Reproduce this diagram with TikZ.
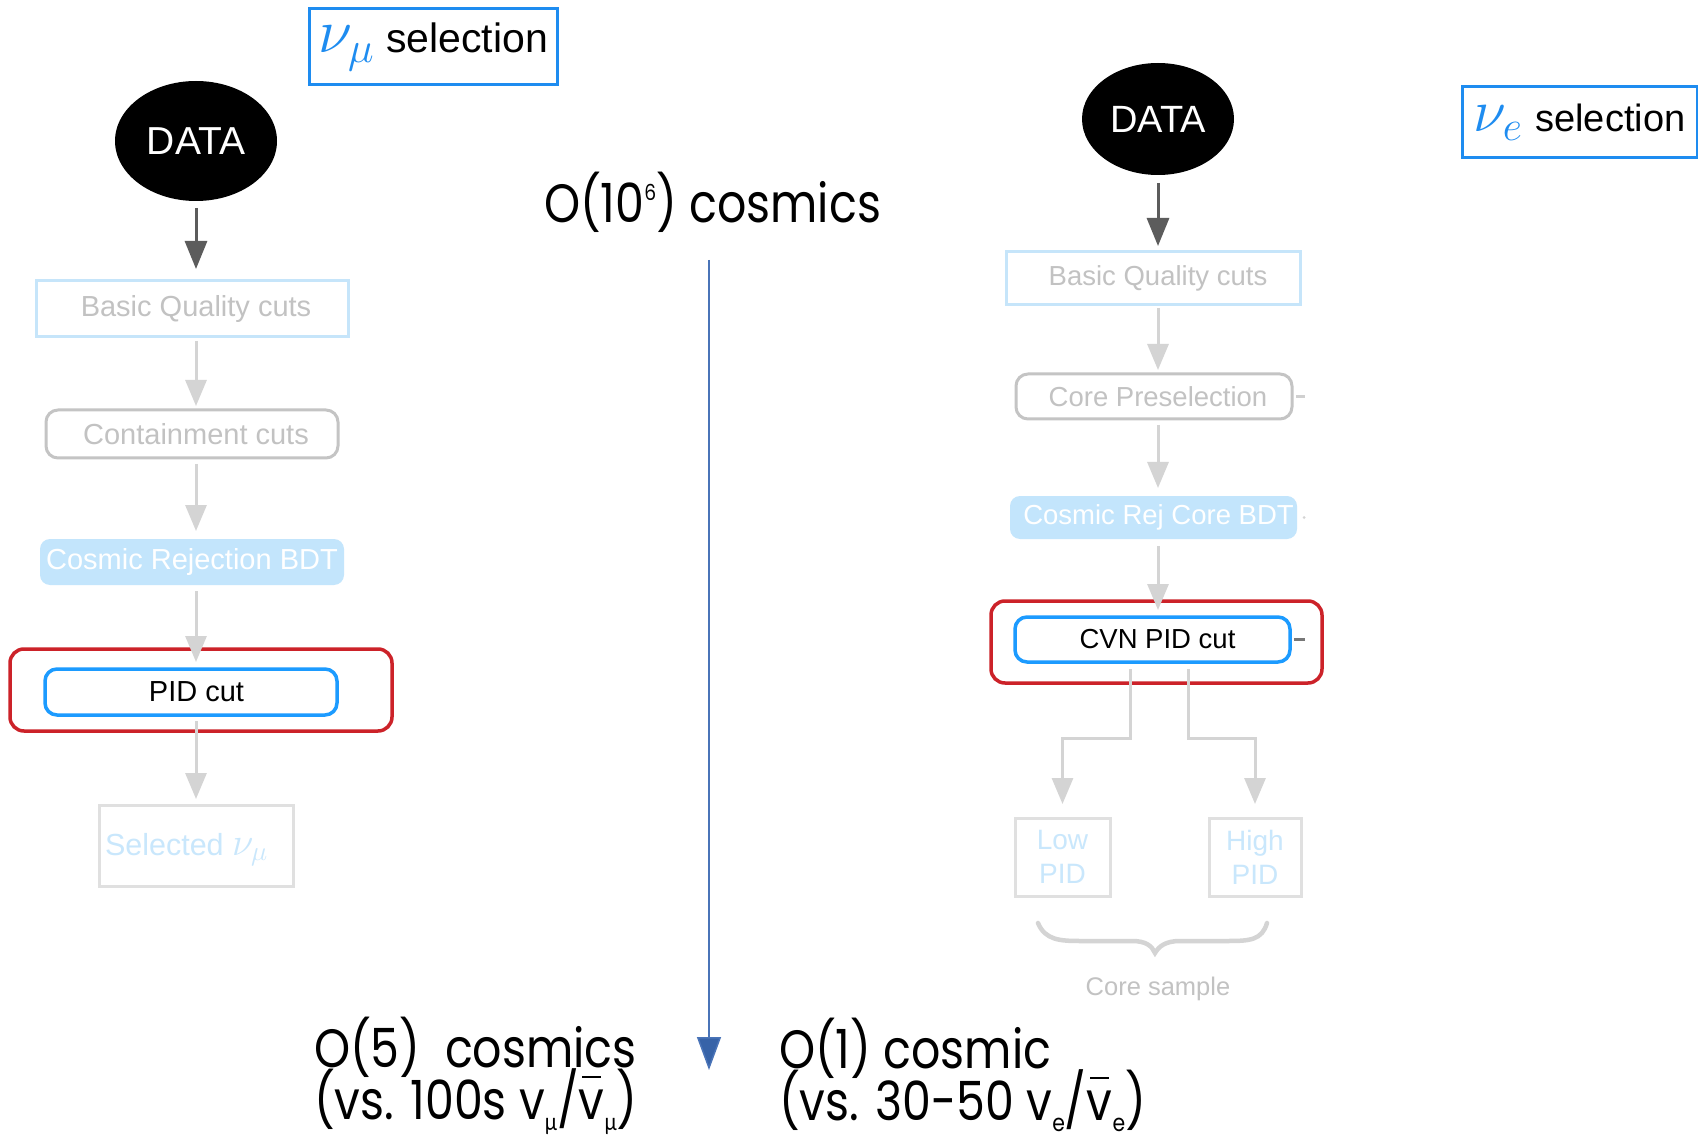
\documentclass[tikz,border=0pt]{standalone}
\usepackage{fix-cm}
\usepackage{graphicx}
\usepackage{fontspec}
\setmainfont{Liberation Sans}
\newfontfamily\qs{Poppins}
\newfontfamily\grk{Lato}
\usetikzlibrary{arrows.meta,shapes.geometric,calc}
\definecolor{tgray}{HTML}{C2C2C2}
\definecolor{lblue}{HTML}{C6E5FA}
\definecolor{bgray}{HTML}{C4C4C4}
\definecolor{fblue}{HTML}{C3E5FC}
\definecolor{agray}{HTML}{D4D4D4}
\definecolor{dgray}{HTML}{5C5C5C}
\definecolor{rred}{HTML}{CC2229}
\definecolor{pblue}{HTML}{1C9BFF}
\definecolor{nblue}{HTML}{1E8CF0}
\definecolor{sgray}{HTML}{E0E0E0}
\definecolor{stext}{HTML}{C9E7FC}
\definecolor{cblue}{HTML}{4A74B8}
\definecolor{hblue}{HTML}{3763A8}
\definecolor{stub}{HTML}{777777}
\newcommand\lsub[1]{\raisebox{-0.2em}{\fontsize{24}{24}\selectfont #1}}
\newcommand\mufont{{\grk μ}}
\newcommand\vbar{\ooalign{v\cr\hidewidth\rule[0.76em]{0.42em}{0.04em}\hidewidth\cr}}
\newcommand\sqz[1]{\scalebox{0.85}[1]{#1}}
\begin{document}
\begin{tikzpicture}[x=1pt,y=-1pt,
  every node/.style={inner sep=0pt, outer sep=0pt},
  sqbox/.style={draw=lblue, line width=3pt, text=tgray, rectangle},
  rndbox/.style={draw=bgray, line width=3pt, text=tgray, rounded corners=12pt},
  fillbox/.style={fill=fblue, text=white, rounded corners=10pt},
  pidbox/.style={draw=pblue, line width=3.5pt, text=black, rounded corners=12pt},
  redbox/.style={draw=rred, line width=3.5pt, rounded corners=14pt},
  outbox/.style={draw=sgray, line width=3pt, text=stext},
  selbox/.style={draw=nblue, line width=3pt},
  garr/.style={draw=agray, line width=3pt, -{Triangle[width=21pt,length=26pt]}},
  darr/.style={draw=dgray, line width=3pt, -{Triangle[width=22pt,length=28pt]}},
  lf/.style={font=\fontsize{29}{34}\selectfont},
  rf/.style={font=\fontsize{27.5}{32}\selectfont},
  bigtxt/.style={font=\qs\fontsize{54}{54}\selectfont, anchor=base west, text=black},
  twoline/.style={font=\qs\fontsize{54}{49}\selectfont, anchor=north west, align=left, text=black},
  datanode/.style={ellipse, fill=black, text=white},
]
\useasboundingbox (0,0) rectangle (1698,1139);
\fill[white] (0,0) rectangle (1698,1139);

% ---------- left: nu_mu selection ----------
\node[selbox, minimum width=248pt, minimum height=76pt] (lmsel) at (433,47)
  {{\fontsize{62}{62}\selectfont\color{nblue}$\nu_\mu$}\hspace{12pt}{\fontsize{41}{41}\selectfont selection}};
\node[datanode, minimum width=162pt, minimum height=120pt, font=\fontsize{39}{42}\selectfont] (ldata) at (196,141) {DATA};
\node[sqbox, lf, minimum width=312pt, minimum height=56pt] (lbasic) at (192,309) {\hspace*{8pt}Basic Quality cuts};
\node[rndbox, lf, minimum width=292pt, minimum height=48pt] (lcont) at (192,434) {\hspace*{8pt}Containment cuts};
\node[fillbox, lf, minimum width=304pt, minimum height=46pt] (lcos) at (192,562) {Cosmic Rejection BDT};
\node[redbox, minimum width=382pt, minimum height=82pt] (lred) at (201,690) {};
\node[pidbox, lf, minimum width=292pt, minimum height=46pt] (lpid) at (191,692) {\hspace*{11pt}PID cut};
\node[outbox, minimum width=194pt, minimum height=81pt] (lsel) at (196,845.5) {};
\node[anchor=base west, font=\fontsize{30.5}{34}\selectfont, text=stext] (lselt) at (105,855)
  {Selected {\fontsize{39}{39}\selectfont$\nu_\mu$}};

\draw[darr, shorten <=7pt, shorten >=12pt] (ldata.south) -- (ldata.south |- lbasic.north);
\draw[garr, shorten <=4pt, shorten >=4pt] (lbasic.south -| ldata) -- (lcont.north -| ldata);
\draw[garr, shorten <=6pt, shorten >=8pt] (lcont.south -| ldata) -- (lcos.north -| ldata);
\draw[garr, shorten <=6pt, shorten >=7pt] (lcos.south -| ldata) -- (lpid.north -| ldata);
\draw[garr, shorten <=6pt, shorten >=6pt] (lpid.south -| ldata) -- (lsel.north -| ldata);

% ---------- right: nu_e selection ----------
\node[selbox, minimum width=235pt, minimum height=71pt] (rnsel) at (1579.5,122.5)
  {{\fontsize{60}{60}\selectfont\color{nblue}$\nu_e$}\hspace{13pt}{\fontsize{38}{40}\selectfont selection}};
\node[datanode, minimum width=152pt, minimum height=112pt, font=\fontsize{38}{40}\selectfont] (rdata) at (1158,119) {DATA};
\node[sqbox, rf, minimum width=294pt, minimum height=53pt] (rbasic) at (1153,278.5) {\hspace*{10pt}Basic Quality cuts};
\node[rndbox, rf, minimum width=276pt, minimum height=45pt] (rcore) at (1154,396.5) {\hspace*{8pt}Core Preselection};
\node[fillbox, rf, minimum width=287pt, minimum height=43pt] (rcos) at (1153.5,517.5) {\hspace*{10pt}Cosmic Rej Core BDT};
\node[redbox, minimum width=331pt, minimum height=82pt] (rred) at (1156.5,642) {};
\node[pidbox, rf, minimum width=275pt, minimum height=45pt] (rcvn) at (1152.5,639.5) {\hspace*{10pt}CVN PID cut};
\node[outbox, minimum width=95pt, minimum height=78pt, align=center, font=\fontsize{28}{34}\selectfont] (rlow) at (1062.5,857) {Low\\PID};
\node[outbox, minimum width=92pt, minimum height=78pt, align=center, font=\fontsize{28}{34}\selectfont] (rhigh) at (1255,857) {High\\PID};
\node[text=tgray, font=\fontsize{25.5}{30}\selectfont] (coresample) at (1158,989) {Core sample};

\draw[darr, shorten <=8pt, shorten >=6pt] (rdata.south) -- (rdata.south |- rbasic.north);
\draw[garr, shorten <=3pt, shorten >=4pt] (rbasic.south -| rdata) -- (rcore.north -| rdata);
\draw[garr, shorten <=6pt, shorten >=8pt] (rcore.south -| rdata) -- (rcos.north -| rdata);
\draw[garr, shorten <=7pt, shorten >=7pt] (rcos.south -| rdata) -- (rcvn.north -| rdata);

\coordinate (b1) at (1130,669);
\coordinate (j1) at (1130,738);
\coordinate (b2) at (1188,669);
\coordinate (j2) at (1188,738);
\draw[garr, shorten >=14pt] (b1) -- (j1) -| (rlow.north);
\draw[garr, shorten >=14pt] (b2) -- (j2) -| (rhigh.north);

% small stubs to the right of the right-hand boxes
\coordinate (s1) at (1305,396.5);
\coordinate (s3) at (1305,639.5);
\draw[line width=3pt, draw=bgray!80] ($(rcore.east)+(4,0)$) -- (s1);
\fill[agray] ($(rcos.east)+(7,0)$) circle (1.5pt);
\draw[line width=3pt, draw=stub] ($(rcvn.east)+(4,0)$) -- (s3);

% brace
\draw[agray, line width=4.5pt, line cap=round]
  (1038,923) .. controls (1045,940) and (1060,941) .. (1080,941)
  -- (1132,941) .. controls (1146,941) and (1152,946) .. (1155,953)
  .. controls (1159,946) and (1166,941) .. (1180,941)
  -- (1228,941) .. controls (1250,941) and (1262,940) .. (1267,923);

% ---------- centre ----------
\node[bigtxt] (top) at (544,223) {\sqz{O(10\raisebox{0.42em}{\fontsize{22}{22}\selectfont 6}) cosmics}};
\coordinate (ctop) at (709,260);
\coordinate (cbot) at (709,1070);
\draw[cblue, line width=1.5pt, -{Triangle[width=24pt,length=33pt,fill=hblue]}] (ctop) -- (cbot);

\node[twoline] (bl) at (314,1017)
  {\sqz{O(5)\ \ cosmics}\\[-10pt]\sqz{(vs. 100s v\lsub{\mufont}/\vbar\lsub{\mufont})}};
\node[twoline] (br) at (779,1018)
  {\sqz{O(1) cosmic}\\[-10pt]\sqz{(vs. 30-50 v\lsub{e}/\vbar\lsub{e})}};
\end{tikzpicture}
\end{document}
